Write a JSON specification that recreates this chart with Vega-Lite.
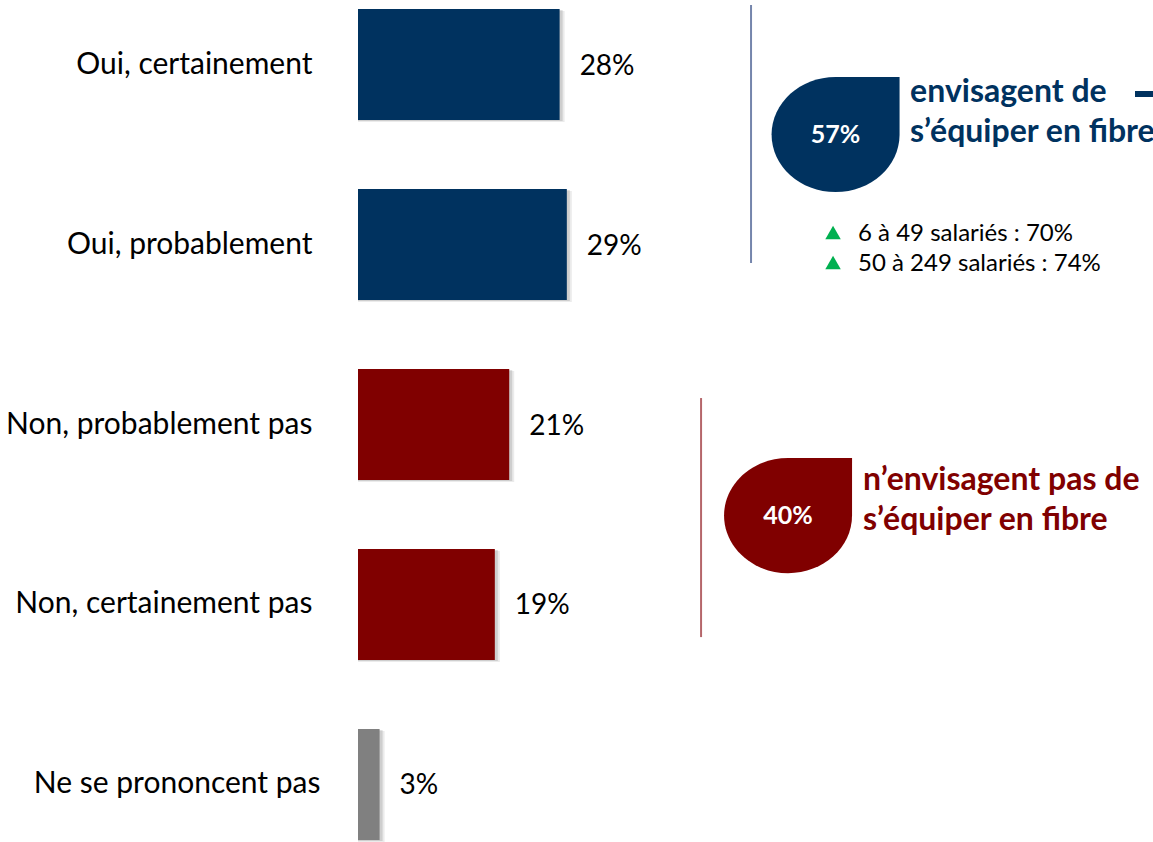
{
  "$schema": "https://vega.github.io/schema/vega-lite/v6.json",
  "width": 795,
  "height": 849,
  "autosize": {"type": "none"},
  "padding": {"left": 358, "top": 0, "right": 0, "bottom": 0},
  "background": "white",
  "config": {"view": {"stroke": null}, "font": "Lato"},
  "datasets": {
    "responses": [
      {"category": "Oui, certainement", "value": 28, "label": "28%", "group": "oui"},
      {"category": "Oui, probablement", "value": 29, "label": "29%", "group": "oui"},
      {"category": "Non, probablement pas", "value": 21, "label": "21%", "group": "non"},
      {"category": "Non, certainement pas", "value": 19, "label": "19%", "group": "non"},
      {"category": "Ne se prononcent pas", "value": 3, "label": "3%", "group": "nsp"}
    ],
    "dividers": [
      {"group": "oui-line", "x": 54.58, "y": -0.33, "y2": 1.103},
      {"group": "non-line", "x": 47.64, "y": 1.853, "y2": 3.181}
    ],
    "drops": [
      {"group": "oui", "x": 66.32, "y": 0.389, "pct": "57%"},
      {"group": "non", "x": 59.72, "y": 2.506, "pct": "40%"}
    ],
    "headlines": [
      {"group": "oui", "x": 76.67, "y": 0.208, "text": "envisagent de"},
      {"group": "oui", "x": 76.67, "y": 0.431, "text": "s’équiper en fibre"},
      {"group": "non", "x": 70.14, "y": 2.364, "text": "n’envisagent pas de"},
      {"group": "non", "x": 70.14, "y": 2.586, "text": "s’équiper en fibre"}
    ],
    "subgroups": [
      {"xm": 65.97, "xt": 69.44, "ym": 0.933, "yt": 0.944, "text": "6 à 49 salariés : 70%"},
      {"xm": 65.97, "xt": 69.44, "ym": 1.1, "yt": 1.11, "text": "50 à 249 salariés : 74%"}
    ],
    "dash": [
      {"x": 107.9, "x2": 110.4, "y": 0.164}
    ]
  },
  "layer": [
    {
      "data": {"name": "responses"},
      "encoding": {
        "y": {
          "field": "category",
          "type": "nominal",
          "sort": ["Oui, certainement", "Oui, probablement", "Non, probablement pas", "Non, certainement pas", "Ne se prononcent pas"],
          "scale": {"paddingInner": 0.3833, "paddingOuter": 0.05},
          "axis": {
            "title": null,
            "domain": false,
            "ticks": false,
            "grid": false,
            "labelFont": "Lato",
            "labelFontSize": 30,
            "labelColor": "#000000",
            "labelLimit": 400,
            "labelPadding": {"condition": {"test": "datum.value === 'Ne se prononcent pas'", "value": 38}, "value": 46}
          }
        },
        "x": {
          "field": "value",
          "type": "quantitative",
          "stack": null,
          "scale": {"domain": [0, 110.4], "nice": false, "zero": true},
          "axis": null
        }
      },
      "layer": [
        {"mark": {"type": "bar", "color": "#000000", "opacity": 0.08, "xOffset": 5, "x2Offset": 2, "yOffset": 2, "y2Offset": 6}},
        {"mark": {"type": "bar", "color": "#000000", "opacity": 0.12, "xOffset": 3, "x2Offset": 1, "yOffset": 1, "y2Offset": 4}},
        {
          "mark": {"type": "bar"},
          "encoding": {
            "color": {
              "field": "group",
              "type": "nominal",
              "scale": {"domain": ["oui", "non", "nsp", "oui-line", "non-line"], "range": ["#00325F", "#800000", "#808080", "#7585AC", "#B5666A"]},
              "legend": null
            }
          }
        },
        {
          "mark": {"type": "text", "align": "left", "baseline": "middle", "dx": 20, "dy": 2, "fontSize": 28, "font": "Lato", "color": "#000000"},
          "encoding": {"text": {"field": "label", "type": "nominal"}}
        }
      ]
    },
    {
      "layer": [
        {
          "data": {"name": "dividers"},
          "mark": {"type": "rule", "strokeWidth": 2},
          "encoding": {
            "x": {"field": "x", "type": "quantitative", "scale": {"domain": [0, 110.4], "nice": false}, "axis": null},
            "y": {"field": "y", "type": "quantitative", "scale": {"domain": [-0.3583, 4.3583], "nice": false, "zero": false, "reverse": true}, "axis": null},
            "y2": {"field": "y2"},
            "color": {
              "field": "group",
              "type": "nominal",
              "scale": {"domain": ["oui", "non", "nsp", "oui-line", "non-line"], "range": ["#00325F", "#800000", "#808080", "#7585AC", "#B5666A"]},
              "legend": null
            }
          }
        },
        {
          "data": {"name": "drops"},
          "mark": {"type": "point", "filled": true, "opacity": 1, "strokeWidth": 0, "size": 16384, "shape": "M0,-0.9L1,-0.9L1,0A1,0.9,0,0,1,0,0.9A1,0.9,0,0,1,-1,0A1,0.9,0,0,1,0,-0.9Z"},
          "encoding": {
            "x": {"field": "x", "type": "quantitative"},
            "y": {"field": "y", "type": "quantitative"},
            "color": {"field": "group", "type": "nominal", "legend": null}
          }
        },
        {
          "data": {"name": "drops"},
          "mark": {"type": "text", "align": "center", "baseline": "middle", "font": "Lato", "fontWeight": "bold", "fontSize": 25, "color": "#FFFFFF"},
          "encoding": {
            "x": {"field": "x", "type": "quantitative"},
            "y": {"field": "y", "type": "quantitative"},
            "text": {"field": "pct", "type": "nominal"}
          }
        },
        {
          "data": {"name": "headlines"},
          "mark": {"type": "text", "align": "left", "baseline": "alphabetic", "font": "Lato", "fontWeight": "bold", "fontSize": 32},
          "encoding": {
            "x": {"field": "x", "type": "quantitative"},
            "y": {"field": "y", "type": "quantitative"},
            "text": {"field": "text", "type": "nominal"},
            "color": {"field": "group", "type": "nominal", "legend": null}
          }
        },
        {
          "data": {"name": "subgroups"},
          "mark": {"type": "point", "shape": "triangle-up", "filled": true, "opacity": 1, "size": 240, "color": "#00B050", "strokeWidth": 0},
          "encoding": {
            "x": {"field": "xm", "type": "quantitative"},
            "y": {"field": "ym", "type": "quantitative"}
          }
        },
        {
          "data": {"name": "subgroups"},
          "mark": {"type": "text", "align": "left", "baseline": "middle", "font": "Lato", "fontSize": 24, "color": "#000000"},
          "encoding": {
            "x": {"field": "xt", "type": "quantitative"},
            "y": {"field": "yt", "type": "quantitative"},
            "text": {"field": "text", "type": "nominal"}
          }
        },
        {
          "data": {"name": "dash"},
          "mark": {"type": "rule", "strokeWidth": 6, "color": "#00325F"},
          "encoding": {
            "x": {"field": "x", "type": "quantitative"},
            "x2": {"field": "x2"},
            "y": {"field": "y", "type": "quantitative"}
          }
        }
      ]
    }
  ],
  "resolve": {"scale": {"y": "independent"}}
}
